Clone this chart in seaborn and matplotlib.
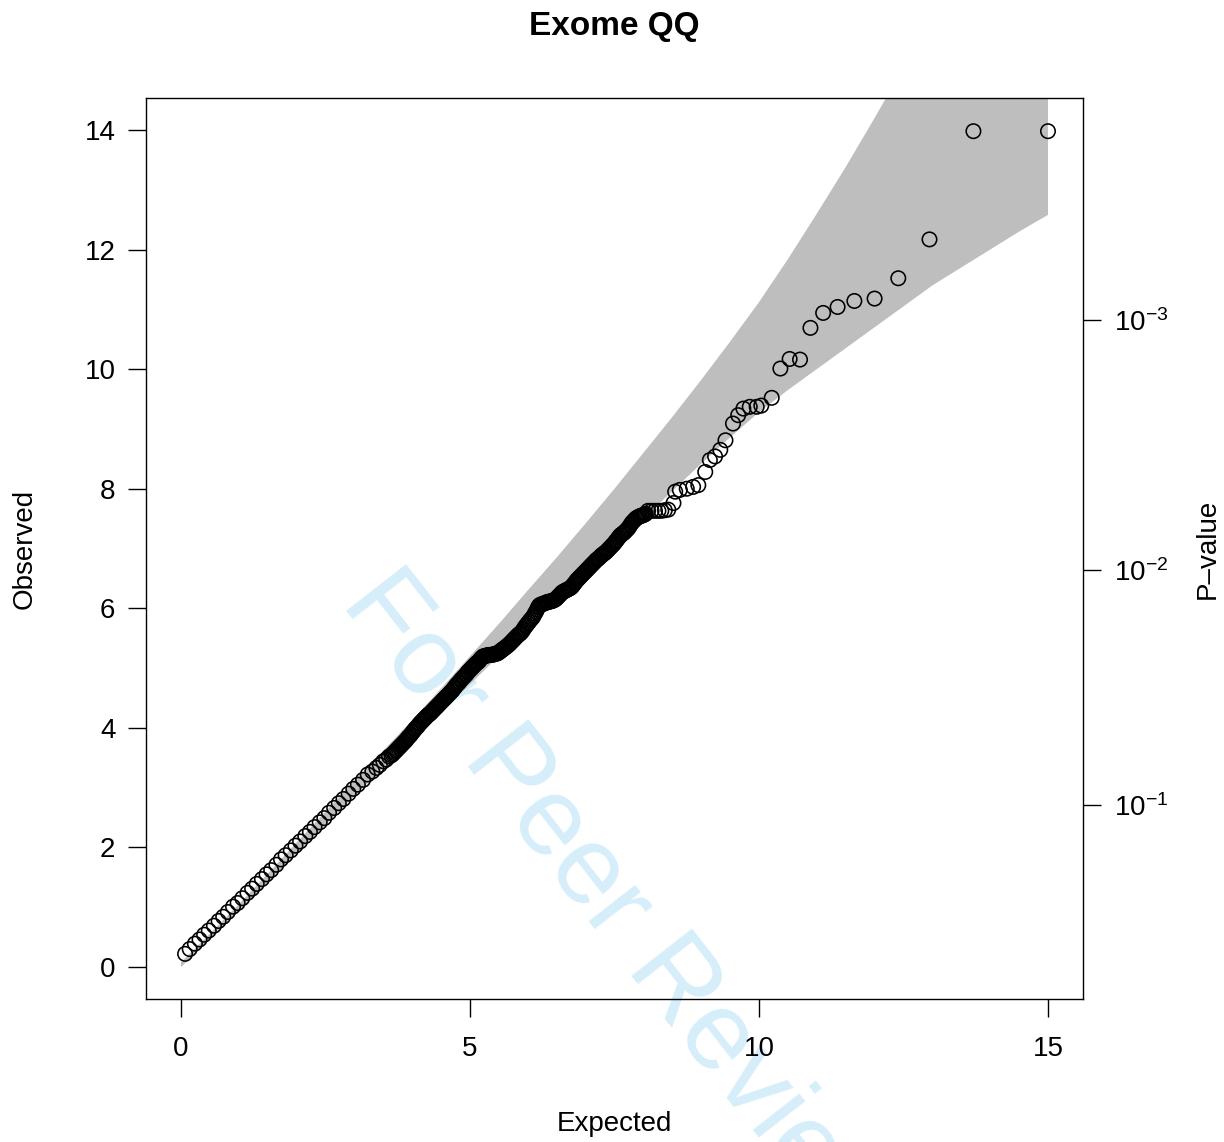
import numpy as np
import pandas as pd
import matplotlib
matplotlib.use("Agg")
import matplotlib.pyplot as plt
import seaborn as sns

# ---------------- data ----------------
title = "Exome QQ"
x_label = "Expected"
y_label = "Observed"
right_label = "P\u2013value"
watermark = "For Peer Review"

x_ticks = [0, 5, 10, 15]
y_ticks = [0, 2, 4, 6, 8, 10, 12, 14]
pval_tick_pos = [2.706, 6.635, 10.828]
pval_tick_labels = [r"$10^{-1}$", r"$10^{-2}$", r"$10^{-3}$"]

band_x = [0, 0.5, 1, 1.5, 2, 2.5, 3, 3.5, 4, 4.5, 5, 5.5, 6, 6.5, 7, 7.5,
          8, 8.5, 9, 9.5, 10, 10.5, 11, 11.5, 12, 12.5, 13, 13.5, 14, 14.5, 15]
band_lower = [0.00, 0.46, 0.93, 1.41, 1.90, 2.38, 2.86, 3.33, 3.80, 4.27,
              4.73, 5.20, 5.66, 6.13, 6.60, 7.06, 7.50, 7.96, 8.42, 8.86,
              9.28, 9.65, 10.00, 10.35, 10.70, 11.05, 11.40, 11.70, 12.00,
              12.30, 12.58]
band_upper = [0.08, 0.56, 1.05, 1.56, 2.08, 2.60, 3.12, 3.62, 4.13, 4.66,
              5.20, 5.74, 6.30, 6.85, 7.42, 8.00, 8.60, 9.20, 9.82, 10.46,
              11.12, 11.84, 12.60, 13.38, 14.20, 15.05, 15.90, 16.80, 17.70,
              18.60, 19.50]

expected_low = [0.07, 0.15, 0.24, 0.32, 0.40, 0.48, 0.57, 0.65, 0.73, 0.81,
                0.90, 0.98, 1.06, 1.15, 1.23, 1.31, 1.40, 1.48, 1.56, 1.65,
                1.73, 1.81, 1.90, 1.98, 2.06, 2.15, 2.23, 2.31, 2.40, 2.48,
                2.56, 2.65, 2.73, 2.81, 2.90, 2.98, 3.06, 3.15, 3.23, 3.31,
                3.38, 3.44, 3.50, 3.55, 3.60]
observed_low = [0.22, 0.30, 0.39, 0.46, 0.54, 0.61, 0.69, 0.77, 0.84, 0.92,
                1.01, 1.07, 1.15, 1.24, 1.31, 1.39, 1.47, 1.55, 1.62, 1.71,
                1.80, 1.87, 1.95, 2.03, 2.10, 2.19, 2.26, 2.34, 2.42, 2.49,
                2.58, 2.66, 2.74, 2.81, 2.90, 2.98, 3.05, 3.13, 3.22, 3.27,
                3.33, 3.38, 3.44, 3.47, 3.52]

expected_mid = [3.64, 3.68, 3.72, 3.76, 3.80, 3.84, 3.88, 3.92, 3.96, 4.00,
                4.04, 4.08, 4.12, 4.16, 4.20, 4.24, 4.28, 4.32, 4.36, 4.40,
                4.44, 4.48, 4.52, 4.56, 4.60, 4.64, 4.68, 4.72, 4.76, 4.80,
                4.84, 4.88, 4.92, 4.96, 5.00, 5.04, 5.08, 5.12, 5.16, 5.20,
                5.24, 5.28, 5.32, 5.36, 5.40, 5.44, 5.48, 5.52, 5.56, 5.60,
                5.64, 5.68, 5.72, 5.76, 5.80, 5.84, 5.88, 5.92, 5.96, 6.00,
                6.04, 6.08, 6.12, 6.16, 6.20, 6.24, 6.28, 6.32, 6.36, 6.40,
                6.44, 6.48, 6.52, 6.56, 6.60, 6.64, 6.68, 6.72, 6.76, 6.80,
                6.84, 6.88, 6.92, 6.96, 7.00, 7.04, 7.08, 7.12, 7.16, 7.20,
                7.24, 7.28, 7.32, 7.36, 7.40, 7.44, 7.48, 7.52, 7.56, 7.60,
                7.64, 7.68, 7.72, 7.76, 7.80, 7.84, 7.88, 7.92, 7.96, 8.00,
                8.04]
observed_mid = [3.54, 3.58, 3.62, 3.66, 3.70, 3.74, 3.78, 3.83, 3.87, 3.92,
                3.97, 4.01, 4.06, 4.10, 4.14, 4.18, 4.22, 4.25, 4.29, 4.33,
                4.37, 4.41, 4.45, 4.49, 4.53, 4.57, 4.61, 4.66, 4.71, 4.75,
                4.80, 4.84, 4.88, 4.93, 4.97, 5.01, 5.05, 5.09, 5.12, 5.17,
                5.20, 5.21, 5.22, 5.22, 5.23, 5.24, 5.25, 5.28, 5.31, 5.34,
                5.37, 5.40, 5.44, 5.48, 5.52, 5.56, 5.59, 5.64, 5.70, 5.75,
                5.80, 5.84, 5.91, 5.98, 6.05, 6.07, 6.08, 6.10, 6.11, 6.12,
                6.13, 6.15, 6.19, 6.23, 6.27, 6.29, 6.31, 6.33, 6.36, 6.41,
                6.46, 6.50, 6.54, 6.58, 6.62, 6.66, 6.70, 6.74, 6.78, 6.82,
                6.85, 6.89, 6.92, 6.95, 6.99, 7.03, 7.07, 7.12, 7.17, 7.22,
                7.25, 7.28, 7.32, 7.37, 7.43, 7.47, 7.51, 7.53, 7.55, 7.56,
                7.58]

# further points of the dense stretch (between the ones above)
expected_mid2 = [3.66, 3.70, 3.74, 3.78, 3.82, 3.86, 3.90, 3.94, 3.98, 4.02,
                 4.06, 4.10, 4.14, 4.18, 4.22, 4.26, 4.30, 4.34, 4.38, 4.42,
                 4.46, 4.50, 4.54, 4.58, 4.62, 4.66, 4.70, 4.74, 4.78, 4.82,
                 4.86, 4.90, 4.94, 4.98, 5.02, 5.06, 5.10, 5.14, 5.18, 5.22,
                 5.26, 5.30, 5.34, 5.38, 5.42, 5.46, 5.50, 5.54, 5.58, 5.62,
                 5.66, 5.70, 5.74, 5.78, 5.82, 5.86, 5.90, 5.94, 5.98, 6.02,
                 6.06, 6.10, 6.14, 6.18, 6.22, 6.26, 6.30, 6.34, 6.38, 6.42,
                 6.46, 6.50, 6.54, 6.58, 6.62, 6.66, 6.70, 6.74, 6.78, 6.82,
                 6.86, 6.90, 6.94, 6.98, 7.02, 7.06, 7.10, 7.14, 7.18, 7.22,
                 7.26, 7.30, 7.34, 7.38, 7.42, 7.46, 7.50, 7.54, 7.58, 7.62,
                 7.66, 7.70, 7.74, 7.78, 7.82, 7.86, 7.90, 7.94, 7.98, 8.02]
observed_mid2 = [3.56, 3.60, 3.64, 3.68, 3.72, 3.76, 3.80, 3.85, 3.89, 3.94,
                 3.99, 4.03, 4.08, 4.12, 4.16, 4.20, 4.23, 4.27, 4.31, 4.35,
                 4.39, 4.43, 4.47, 4.51, 4.55, 4.59, 4.63, 4.68, 4.73, 4.77,
                 4.82, 4.86, 4.90, 4.95, 4.99, 5.03, 5.07, 5.10, 5.15, 5.19,
                 5.20, 5.21, 5.22, 5.22, 5.23, 5.24, 5.26, 5.29, 5.32, 5.35,
                 5.38, 5.42, 5.46, 5.50, 5.54, 5.57, 5.61, 5.67, 5.72, 5.77,
                 5.82, 5.87, 5.94, 6.02, 6.06, 6.07, 6.09, 6.10, 6.11, 6.12,
                 6.14, 6.17, 6.21, 6.25, 6.28, 6.30, 6.32, 6.34, 6.38, 6.43,
                 6.48, 6.52, 6.56, 6.60, 6.64, 6.68, 6.72, 6.76, 6.80, 6.83,
                 6.87, 6.90, 6.93, 6.97, 7.01, 7.05, 7.09, 7.14, 7.19, 7.23,
                 7.26, 7.30, 7.34, 7.40, 7.45, 7.49, 7.52, 7.54, 7.55, 7.57]

expected_tail = [8.08, 8.14, 8.20, 8.26, 8.31, 8.37, 8.43, 8.52, 8.55, 8.63,
                 8.75, 8.86, 8.95, 9.07, 9.15, 9.24, 9.33, 9.42, 9.55, 9.64,
                 9.73, 9.84, 9.96, 10.04, 10.22, 10.37, 10.53, 10.71, 10.89,
                 11.11, 11.36, 11.65, 12.00, 12.41, 12.95, 13.71, 15.00]
observed_tail = [7.63, 7.63, 7.63, 7.63, 7.63, 7.64, 7.65, 7.76, 7.95, 7.98,
                 8.00, 8.03, 8.06, 8.28, 8.48, 8.54, 8.65, 8.81, 9.09, 9.23,
                 9.34, 9.37, 9.37, 9.39, 9.52, 10.01, 10.17, 10.16, 10.69,
                 10.94, 11.04, 11.14, 11.18, 11.52, 12.17, 13.98, 13.98]

# ---------------- style ----------------
sns.set_theme(style="white")
plt.rcParams["font.family"] = ["Liberation Sans", "DejaVu Sans"]
plt.rcParams["mathtext.fontset"] = "custom"
plt.rcParams["mathtext.rm"] = "Liberation Sans"
plt.rcParams["mathtext.it"] = "Liberation Sans:italic"
plt.rcParams["mathtext.bf"] = "Liberation Sans:bold"
plt.rcParams["text.color"] = "black"
plt.rcParams["axes.labelcolor"] = "black"
plt.rcParams["xtick.color"] = "black"
plt.rcParams["ytick.color"] = "black"
plt.rcParams["axes.edgecolor"] = "black"

W, H = 1224, 1142
fig = plt.figure(figsize=(W / 100, H / 100), dpi=100)
fig.patch.set_facecolor("white")

ax_l, ax_r, ax_t, ax_b = 146, 1083, 98, 999
ax = fig.add_axes([ax_l / W, 1 - ax_b / H, (ax_r - ax_l) / W, (ax_b - ax_t) / H])
ax.set_facecolor("none")

df = pd.DataFrame({
    "expected": expected_low + expected_mid + expected_mid2 + expected_tail,
    "observed": observed_low + observed_mid + observed_mid2 + observed_tail,
})
band = pd.DataFrame({"x": band_x, "lo": band_lower, "hi": band_upper})

ax.fill_between(band["x"], band["lo"], band["hi"], color="#bebebe",
                linewidth=0, zorder=1)
sns.scatterplot(data=df, x="expected", y="observed", ax=ax, marker="o",
                s=108, facecolors="none", edgecolor="black", linewidth=1.15,
                zorder=2, legend=False)

ax.set_xlim(-0.606, 15.606)
ax.set_ylim(-0.535, 14.535)
ax.set_xticks(x_ticks)
ax.set_xticklabels([str(v) for v in x_ticks])
ax.set_yticks(y_ticks)
ax.set_yticklabels([str(v) for v in y_ticks])
ax.set_xlabel("")
ax.set_ylabel("")

for sp in ax.spines.values():
    sp.set_visible(True)
    sp.set_color("black")
    sp.set_linewidth(1.0)

ax.tick_params(axis="both", direction="out", length=13, width=1.0,
               color="black", labelsize=20, labelcolor="black")
ax.tick_params(axis="x", pad=14, bottom=True)
ax.tick_params(axis="y", pad=9, left=True)

ax2 = ax.twinx()
ax2.set_ylim(ax.get_ylim())
ax2.set_yticks(pval_tick_pos)
ax2.set_yticklabels(pval_tick_labels)
ax2.tick_params(axis="y", direction="out", length=13, width=1.0,
                color="black", labelsize=20, labelcolor="black", pad=9,
                right=True)
for sp in ax2.spines.values():
    sp.set_visible(False)
ax2.grid(False)
ax.grid(False)

fig.text(614.5 / W, 1 - 27 / H, title, ha="center", va="center",
         fontsize=24, fontweight="bold", color="black")
fig.text(614.5 / W, 1 - 1124 / H, x_label, ha="center", va="center",
         fontsize=20, color="black")
fig.text(25 / W, 1 - 548.5 / H, y_label, ha="center", va="center",
         fontsize=20, rotation=90, color="black")
fig.text(1208 / W, 1 - 548.5 / H, right_label, ha="center", va="center",
         fontsize=20, rotation=90, color="black")

fig.text(340 / W, 1 - 603 / H, watermark, rotation=-52,
         rotation_mode="anchor", ha="left", va="baseline", fontsize=80,
         color="#d5eefa", zorder=-1)

fig.savefig("out.png", dpi=100)
